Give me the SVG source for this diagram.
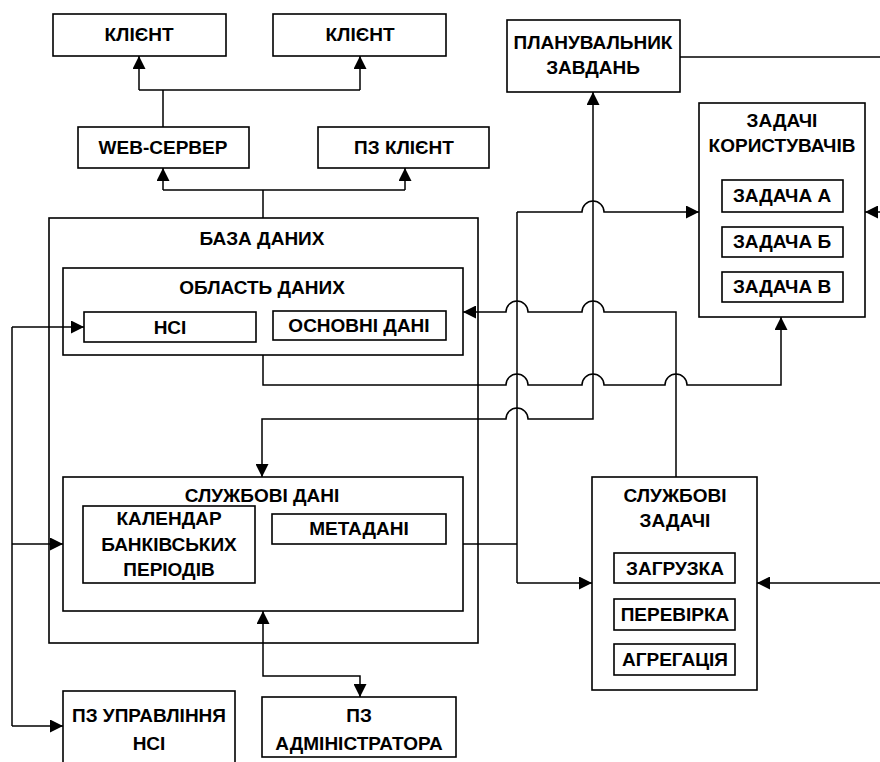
<svg xmlns="http://www.w3.org/2000/svg" width="880" height="762" viewBox="0 0 880 762">
<style>
.b{fill:#fff;stroke:#000;stroke-width:1.6}
.f{fill:none;stroke:#000;stroke-width:1.6}
text{font-family:"Liberation Sans",Arial,sans-serif;font-weight:bold;font-size:19px;text-anchor:middle;fill:#000}
.c{fill:none;stroke:#000;stroke-width:1.5}
.a{marker-end:url(#ah)}
.aa{marker-start:url(#ah);marker-end:url(#ah)}
</style>
<defs>
<marker id="ah" markerUnits="userSpaceOnUse" markerWidth="14" markerHeight="13" refX="13" refY="6.5" orient="auto-start-reverse">
<path d="M0,0 L13,6.5 L0,13 z" fill="#000"/>
</marker>
</defs>
<rect width="880" height="762" fill="#fff"/>

<g id="db">
<rect class="f" x="49" y="218" width="429" height="425"/>
<text x="262" y="245">БАЗА ДАНИХ</text>
</g>
<g id="dataArea">
<rect class="f" x="63" y="268" width="400" height="87"/>
<text x="262" y="294">ОБЛАСТЬ ДАНИХ</text>
</g>
<g id="nsi">
<rect class="b" x="84" y="312" width="172" height="30"/>
<text x="170" y="334">НСІ</text>
</g>
<g id="mainData">
<rect class="b" x="273" y="311" width="173" height="29"/>
<text x="359" y="332">ОСНОВНІ ДАНІ</text>
</g>
<g id="serviceData">
<rect class="f" x="63" y="477" width="400" height="134"/>
<text x="262" y="502">СЛУЖБОВІ ДАНІ</text>
</g>
<g id="calendar">
<rect class="b" x="83" y="506" width="172" height="77"/>
<text x="169" y="525">КАЛЕНДАР</text>
<text x="169" y="551">БАНКІВСЬКИХ</text>
<text x="169" y="576">ПЕРІОДІВ</text>
</g>
<g id="meta">
<rect class="b" x="272" y="514" width="174" height="30"/>
<text x="359" y="535">МЕТАДАНІ</text>
</g>

<g id="connectors">
<path class="c" d="M163,127 V90 M139,90 H360"/>
<path class="c a" d="M139,90 V56"/>
<path class="c a" d="M360,90 V56"/>
<path class="c" d="M263,218 V190 M163,190 H405"/>
<path class="c a" d="M163,190 V168"/>
<path class="c a" d="M405,190 V168"/>
<path class="c a" d="M12,327 H84"/>
<path class="c" d="M12,327 V726"/>
<path class="c a" d="M12,544 H63"/>
<path class="c a" d="M12,726 H63"/>
<path class="c a" d="M263,355 V385 H506 A11,11 0 0 1 528,385 H582 A11,11 0 0 1 604,385 H665 A11,11 0 0 1 687,385 H781 V317"/>
<path class="c a" d="M676,477 V312 H604 A11,11 0 0 0 582,312 H528 A11,11 0 0 0 506,312 H463"/>
<path class="c aa" d="M262,477 V419 H506 A11,11 0 0 1 528,419 H593 V92"/>
<path class="c" d="M463,544 H517 M517,212 V583"/>
<path class="c a" d="M517,583 H592"/>
<path class="c a" d="M517,212 H582 A11,11 0 0 1 604,212 H699"/>
<path class="c" d="M680,57 H880"/>
<path class="c a" d="M880,212 H865"/>
<path class="c a" d="M880,583 H757"/>
<path class="c aa" d="M263,611 V676 H360 V697"/>
</g>

<g id="client1">
<rect class="b" x="53" y="14" width="173" height="42"/>
<text x="139" y="41">КЛІЄНТ</text>
</g>
<g id="client2">
<rect class="b" x="273" y="14" width="173" height="42"/>
<text x="360" y="41">КЛІЄНТ</text>
</g>
<g id="web">
<rect class="b" x="78" y="127" width="171" height="41"/>
<text x="163" y="154">WEB-СЕРВЕР</text>
</g>
<g id="pzClient">
<rect class="b" x="318" y="127" width="171" height="41"/>
<text x="404" y="154">ПЗ КЛІЄНТ</text>
</g>
<g id="planner">
<rect class="b" x="507" y="20" width="173" height="72"/>
<text x="593" y="49">ПЛАНУВАЛЬНИК</text>
<text x="593" y="74">ЗАВДАНЬ</text>
</g>
<g id="userTasks">
<rect class="b" x="699" y="103" width="166" height="214"/>
<text x="782" y="127">ЗАДАЧІ</text>
<text x="782" y="152">КОРИСТУВАЧІВ</text>
</g>
<g id="taskA">
<rect class="b" x="722" y="180" width="121" height="32"/>
<text x="782" y="202">ЗАДАЧА А</text>
</g>
<g id="taskB">
<rect class="b" x="722" y="227" width="121" height="30"/>
<text x="782" y="248">ЗАДАЧА Б</text>
</g>
<g id="taskC">
<rect class="b" x="722" y="272" width="121" height="30"/>
<text x="782" y="293">ЗАДАЧА В</text>
</g>
<g id="serviceTasks">
<rect class="b" x="592" y="477" width="165" height="213"/>
<text x="675" y="502">СЛУЖБОВІ</text>
<text x="675" y="527">ЗАДАЧІ</text>
</g>
<g id="load">
<rect class="b" x="614" y="553" width="121" height="30"/>
<text x="675" y="575">ЗАГРУЗКА</text>
</g>
<g id="check">
<rect class="b" x="614" y="599" width="121" height="31"/>
<text x="675" y="621">ПЕРЕВІРКА</text>
</g>
<g id="agg">
<rect class="b" x="614" y="644" width="121" height="31"/>
<text x="675" y="666">АГРЕГАЦІЯ</text>
</g>
<g id="pzNsi">
<rect class="b" x="63" y="691" width="172" height="80"/>
<text x="149" y="722">ПЗ УПРАВЛІННЯ</text>
<text x="149" y="750">НСІ</text>
</g>
<g id="pzAdmin">
<rect class="b" x="262" y="697" width="194" height="60"/>
<text x="359" y="722">ПЗ</text>
<text x="359" y="750">АДМІНІСТРАТОРА</text>
</g>
</svg>
